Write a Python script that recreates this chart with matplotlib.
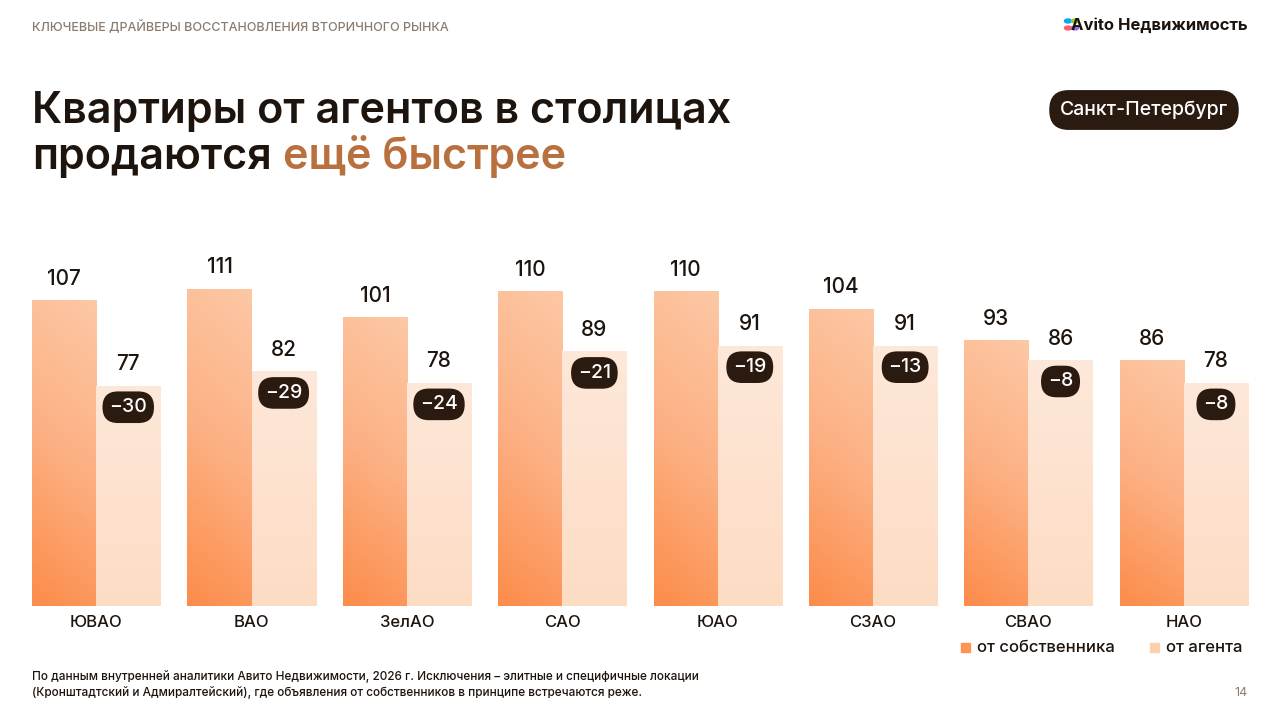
import matplotlib
matplotlib.use("Agg")
import matplotlib.pyplot as plt
import numpy as np
from matplotlib.colors import LinearSegmentedColormap
from matplotlib.patches import Rectangle

plt.rcParams['font.family'] = ['Inter', 'DejaVu Sans']

# данные
districts = ["ЮВАО", "ВАО", "ЗелАО", "САО", "ЮАО", "СЗАО", "СВАО", "НАО"]
owner = [107, 111, 101, 110, 110, 104, 93, 86]
agent = [77, 82, 78, 89, 91, 91, 86, 78]
delta = ["−30", "−29", "−24", "−21", "−19", "−13", "−8", "−8"]

W, H = 1280, 720
fig = plt.figure(figsize=(12.8, 7.2), dpi=100)
fig.patch.set_facecolor("white")

# оси графика (в пикселях: x 32..1248, база y=606)
ax = fig.add_axes([32 / W, (H - 606) / H, (1248 - 32) / W, 356 / H])
bw = 64 / 155
ax.set_xlim(-bw, len(districts) - 1 + bw)
ax.axis("off")

cm_own = LinearSegmentedColormap.from_list("own", ["#fdc8a5", "#fcb083", "#fd8c4a"])
cm_ag = LinearSegmentedColormap.from_list("ag", ["#fee8d9", "#fddcc4"])
gx, gy = np.meshgrid(np.linspace(0, 1, 50), np.linspace(0, 1, 256))
# row 0 = низ столбца
grad_own = np.clip((1 - gy) * 0.85 + (1 - gx) * 0.15, 0, 1)
grad_ag = 1 - gy

for i, (o, a) in enumerate(zip(owner, agent)):
    x0 = i - bw
    r = Rectangle((x0, 0), bw, o, facecolor="none", edgecolor="none")
    ax.add_patch(r)
    im = ax.imshow(grad_own, cmap=cm_own, extent=(x0, x0 + bw, 0, o),
                   origin="lower", aspect="auto", zorder=1, vmin=0, vmax=1)
    im.set_clip_path(r)
    r2 = Rectangle((i, 0), bw, a, facecolor="none", edgecolor="none")
    ax.add_patch(r2)
    im2 = ax.imshow(grad_ag, cmap=cm_ag, extent=(i, i + bw, 0, a),
                    origin="lower", aspect="auto", zorder=1, vmin=0, vmax=1)
    im2.set_clip_path(r2)
    ax.text(i - bw / 2, o + 4, str(o), ha="center", va="bottom", fontsize=15,
            fontweight="medium", color="#1e140e")
    ax.text(i + bw / 2, a + 4, str(a), ha="center", va="bottom", fontsize=15,
            fontweight="medium", color="#1e140e")
    ax.text(i + bw / 2, a - 7.5, delta[i], ha="center", va="center", fontsize=14,
            fontweight="medium", color="white", zorder=5,
            bbox=dict(boxstyle="round,pad=0.35,rounding_size=0.8", fc="#2b1a10", ec="none"))
    ax.text(i, -3, districts[i], ha="center", va="top", fontsize=12,
            fontweight="medium", color="#1e140e")
ax.set_ylim(0, 356 / 2.86)

# заголовки
fig.text(32 / W, 1 - 27 / H, "КЛЮЧЕВЫЕ ДРАЙВЕРЫ ВОССТАНОВЛЕНИЯ ВТОРИЧНОГО РЫНКА",
         fontsize=9, fontweight="medium", color="#8a7b6e", va="center")
fig.text(1248 / W, 1 - 25 / H, "Avito Недвижимость", fontsize=12, fontweight="bold",
         color="#1e140e", ha="right", va="center")
for dx, dy, c in [(0, 0, "#00aaff"), (7, 0, "#97cf26"), (0, 7, "#ff6163"), (7, 7, "#a169f7")]:
    fig.patches.append(plt.Circle(((1068 + dx) / W, 1 - (21 + dy) / H), 3.5 / W,
                                  color=c, transform=fig.transFigure))
fig.text(32 / W, 1 - 112 / H, "Квартиры от агентов в столицах", fontsize=31,
         fontweight="semibold", color="#1e140e", va="center")
fig.text(32 / W, 1 - 157 / H, "продаются", fontsize=31, fontweight="semibold",
         color="#1e140e", va="center")
fig.text(283 / W, 1 - 157 / H, "ещё быстрее", fontsize=31, fontweight="semibold",
         color="#b8703e", va="center")
fig.text(1144 / W, 1 - 110 / H, "Санкт-Петербург", fontsize=14, fontweight="medium",
         color="white", ha="center", va="center",
         bbox=dict(boxstyle="round,pad=0.55,rounding_size=1.0", fc="#2b1a10", ec="none"))

# легенда
fig.patches.append(Rectangle((961 / W, 1 - 652 / H), 9 / W, 9 / H, color="#fd9456",
                             transform=fig.transFigure))
fig.text(977 / W, 1 - 647 / H, "от собственника", fontsize=12, fontweight="medium",
         color="#1e140e", va="center")
fig.patches.append(Rectangle((1150 / W, 1 - 652 / H), 9 / W, 9 / H, color="#fdd0ae",
                             transform=fig.transFigure))
fig.text(1166 / W, 1 - 647 / H, "от агента", fontsize=12, fontweight="medium",
         color="#1e140e", va="center")

# сноска
fig.text(32 / W, 1 - 677 / H,
         "По данным внутренней аналитики Авито Недвижимости, 2026 г. Исключения – элитные и специфичные локации",
         fontsize=8.5, fontweight="medium", color="#1e140e", va="center")
fig.text(32 / W, 1 - 693 / H,
         "(Кронштадтский и Адмиралтейский), где объявления от собственников в принципе встречаются реже.",
         fontsize=8.5, fontweight="medium", color="#1e140e", va="center")
fig.text(1248 / W, 1 - 693 / H, "14", fontsize=9, color="#8a7b6e", ha="right", va="center")

fig.savefig("out.png", dpi=100)
